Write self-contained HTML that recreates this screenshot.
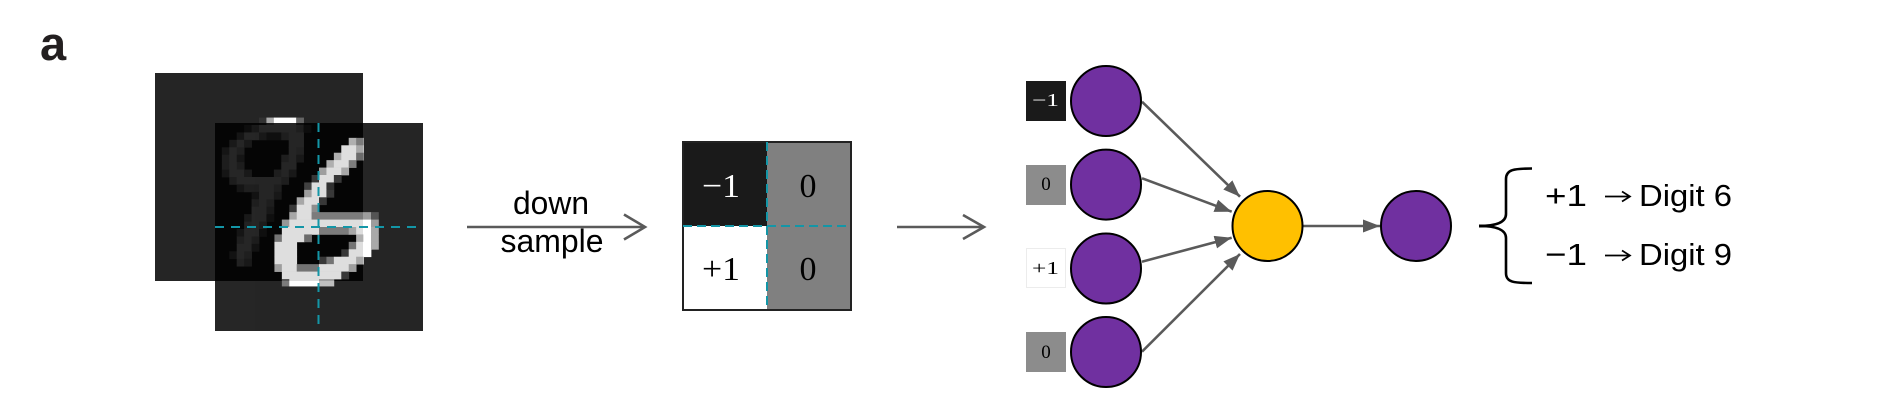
<!DOCTYPE html>
<html>
<head>
<meta charset="utf-8">
<style>
html,body{margin:0;padding:0;background:#fff;}
body{width:1900px;height:410px;overflow:hidden;}
svg{display:block;}
.sans{font-family:"Liberation Sans",Arial,sans-serif;}
.serif{font-family:"Liberation Serif","Times New Roman",serif;}
</style>
</head>
<body>
<svg width="1900" height="410" viewBox="0 0 1900 410" xmlns="http://www.w3.org/2000/svg">
<defs>
  <marker id="ah" markerUnits="userSpaceOnUse" markerWidth="18" markerHeight="14" refX="17" refY="6.5" orient="auto">
    <path d="M0,0 L17,6.5 L0,13 z" fill="#5a5a5a"/>
  </marker>
</defs>

<!-- label a -->
<text x="40" y="60" class="sans" font-size="47" font-weight="bold" fill="#231f20">a</text>

<!-- back image (digit 9) -->
<g opacity="0.85">
  <rect x="155" y="73" width="208" height="208" fill="#000"/>
  <g transform="translate(155,73) scale(7.4286)">
    <rect x="14" y="6" width="1.05" height="1.05" fill="#0f0f0f"/>
    <rect x="15" y="6" width="1.05" height="1.05" fill="#9b9b9b"/>
    <rect x="16" y="6" width="3.05" height="1.05" fill="#fff"/>
    <rect x="19" y="6" width="1.05" height="1.05" fill="#4b4b4b"/>

    <rect x="12" y="7" width="1.05" height="1.05" fill="#3c3c3c"/>
    <rect x="13" y="7" width="1.05" height="1.05" fill="#969696"/>
    <rect x="14" y="7" width="5.05" height="1.05" fill="#fff"/>
    <rect x="19" y="7" width="1.05" height="1.05" fill="#c8c8c8"/>
    <rect x="20" y="7" width="1.05" height="1.05" fill="#3c3c3c"/>

    <rect x="11" y="8" width="1.05" height="1.05" fill="#787878"/>
    <rect x="12" y="8" width="2.05" height="1.05" fill="#fff"/>
    <rect x="14" y="8" width="1.05" height="1.05" fill="#969696"/>
    <rect x="15" y="8" width="2.05" height="1.05" fill="#505050"/>
    <rect x="17" y="8" width="1.05" height="1.05" fill="#c8c8c8"/>
    <rect x="18" y="8" width="2.05" height="1.05" fill="#fff"/>

    <rect x="10" y="9" width="1.05" height="1.05" fill="#969696"/>
    <rect x="11" y="9" width="1.05" height="1.05" fill="#fff"/>
    <rect x="12" y="9" width="1.05" height="1.05" fill="#969696"/>
    <rect x="18" y="9" width="2.05" height="1.05" fill="#fff"/>

    <rect x="9" y="10" width="1.05" height="1.05" fill="#787878"/>
    <rect x="10" y="10" width="1.05" height="1.05" fill="#fff"/>
    <rect x="11" y="10" width="1.05" height="1.05" fill="#c8c8c8"/>
    <rect x="18" y="10" width="1.05" height="1.05" fill="#fff"/>
    <rect x="19" y="10" width="1.05" height="1.05" fill="#dcdcdc"/>

    <rect x="9" y="11" width="1.05" height="1.05" fill="#b4b4b4"/>
    <rect x="10" y="11" width="1.05" height="1.05" fill="#fff"/>
    <rect x="11" y="11" width="1.05" height="1.05" fill="#787878"/>
    <rect x="17" y="11" width="1.05" height="1.05" fill="#c8c8c8"/>
    <rect x="18" y="11" width="1.05" height="1.05" fill="#fff"/>
    <rect x="19" y="11" width="1.05" height="1.05" fill="#969696"/>

    <rect x="9" y="12" width="1.05" height="1.05" fill="#b4b4b4"/>
    <rect x="10" y="12" width="1.05" height="1.05" fill="#fff"/>
    <rect x="11" y="12" width="1.05" height="1.05" fill="#b4b4b4"/>
    <rect x="17" y="12" width="2.05" height="1.05" fill="#fff"/>

    <rect x="9" y="13" width="1.05" height="1.05" fill="#787878"/>
    <rect x="10" y="13" width="2.05" height="1.05" fill="#fff"/>
    <rect x="12" y="13" width="1.05" height="1.05" fill="#969696"/>
    <rect x="16" y="13" width="1.05" height="1.05" fill="#c8c8c8"/>
    <rect x="17" y="13" width="1.05" height="1.05" fill="#fff"/>
    <rect x="18" y="13" width="1.05" height="1.05" fill="#969696"/>

    <rect x="10" y="14" width="1.05" height="1.05" fill="#b4b4b4"/>
    <rect x="11" y="14" width="6.05" height="1.05" fill="#fff"/>
    <rect x="17" y="14" width="1.05" height="1.05" fill="#c8c8c8"/>

    <rect x="11" y="15" width="1.05" height="1.05" fill="#787878"/>
    <rect x="12" y="15" width="2.05" height="1.05" fill="#c8c8c8"/>
    <rect x="14" y="15" width="2.05" height="1.05" fill="#fff"/>
    <rect x="16" y="15" width="1.05" height="1.05" fill="#c8c8c8"/>

    <rect x="13" y="16" width="1.05" height="1.05" fill="#646464"/>
    <rect x="14" y="16" width="2.05" height="1.05" fill="#fff"/>
    <rect x="16" y="16" width="1.05" height="1.05" fill="#969696"/>

    <rect x="13" y="17" width="1.05" height="1.05" fill="#c8c8c8"/>
    <rect x="14" y="17" width="1.05" height="1.05" fill="#fff"/>
    <rect x="15" y="17" width="1.05" height="1.05" fill="#c8c8c8"/>

    <rect x="13" y="18" width="2.05" height="1.05" fill="#fff"/>
    <rect x="15" y="18" width="1.05" height="1.05" fill="#969696"/>

    <rect x="12" y="19" width="1.05" height="1.05" fill="#969696"/>
    <rect x="13" y="19" width="2.05" height="1.05" fill="#fff"/>
    <rect x="15" y="19" width="1.05" height="1.05" fill="#505050"/>

    <rect x="12" y="20" width="1.05" height="1.05" fill="#dcdcdc"/>
    <rect x="13" y="20" width="1.05" height="1.05" fill="#fff"/>
    <rect x="14" y="20" width="1.05" height="1.05" fill="#b4b4b4"/>

    <rect x="11" y="21" width="1.05" height="1.05" fill="#787878"/>
    <rect x="12" y="21" width="2.05" height="1.05" fill="#fff"/>
    <rect x="14" y="21" width="1.05" height="1.05" fill="#505050"/>

    <rect x="11" y="22" width="1.05" height="1.05" fill="#c8c8c8"/>
    <rect x="12" y="22" width="1.05" height="1.05" fill="#fff"/>
    <rect x="13" y="22" width="1.05" height="1.05" fill="#b4b4b4"/>

    <rect x="11" y="23" width="2.05" height="1.05" fill="#fff"/>
    <rect x="13" y="23" width="1.05" height="1.05" fill="#646464"/>

    <rect x="10" y="24" width="1.05" height="1.05" fill="#646464"/>
    <rect x="11" y="24" width="1.05" height="1.05" fill="#fff"/>
    <rect x="12" y="24" width="1.05" height="1.05" fill="#c8c8c8"/>

    <rect x="11" y="25" width="1.05" height="1.05" fill="#dcdcdc"/>
    <rect x="12" y="25" width="1.05" height="1.05" fill="#969696"/>
  </g>
</g>

<!-- front image (digit 6) -->
<g opacity="0.85">
  <rect x="215" y="123" width="208" height="208" fill="#000"/>
  <g transform="translate(215,123) scale(7.4286)">
    <rect x="18" y="2" width="1.05" height="1.05" fill="#c8c8c8"/>
    <rect x="19" y="2" width="1.05" height="1.05" fill="#8c8c8c"/>

    <rect x="17" y="3" width="2.05" height="1.05" fill="#fff"/>
    <rect x="19" y="3" width="1.05" height="1.05" fill="#bebebe"/>

    <rect x="16" y="4" width="1.05" height="1.05" fill="#c8c8c8"/>
    <rect x="17" y="4" width="2.05" height="1.05" fill="#fff"/>
    <rect x="19" y="4" width="1.05" height="1.05" fill="#787878"/>

    <rect x="15" y="5" width="1.05" height="1.05" fill="#c8c8c8"/>
    <rect x="16" y="5" width="2.05" height="1.05" fill="#fff"/>
    <rect x="18" y="5" width="1.05" height="1.05" fill="#8c8c8c"/>

    <rect x="14" y="6" width="1.05" height="1.05" fill="#b4b4b4"/>
    <rect x="15" y="6" width="2.05" height="1.05" fill="#fff"/>
    <rect x="17" y="6" width="1.05" height="1.05" fill="#bebebe"/>

    <rect x="13" y="7" width="1.05" height="1.05" fill="#3c3c3c"/>
    <rect x="14" y="7" width="2.05" height="1.05" fill="#fff"/>
    <rect x="16" y="7" width="1.05" height="1.05" fill="#3c3c3c"/>

    <rect x="12" y="8" width="1.05" height="1.05" fill="#464646"/>
    <rect x="13" y="8" width="2.05" height="1.05" fill="#fff"/>
    <rect x="15" y="8" width="1.05" height="1.05" fill="#323232"/>

    <rect x="12" y="9" width="1.05" height="1.05" fill="#b4b4b4"/>
    <rect x="13" y="9" width="2.05" height="1.05" fill="#fff"/>
    <rect x="15" y="9" width="1.05" height="1.05" fill="#3c3c3c"/>

    <rect x="11" y="10" width="1.05" height="1.05" fill="#bebebe"/>
    <rect x="12" y="10" width="2.05" height="1.05" fill="#fff"/>
    <rect x="14" y="10" width="1.05" height="1.05" fill="#3c3c3c"/>

    <rect x="10" y="11" width="1.05" height="1.05" fill="#3c3c3c"/>
    <rect x="11" y="11" width="2.05" height="1.05" fill="#fff"/>
    <rect x="13" y="11" width="1.05" height="1.05" fill="#a0a0a0"/>

    <rect x="10" y="12" width="1.05" height="1.05" fill="#bebebe"/>
    <rect x="11" y="12" width="2.05" height="1.05" fill="#fff"/>
    <rect x="13" y="12" width="8.05" height="1.05" fill="#8c8c8c"/>
    <rect x="21" y="12" width="1.05" height="1.05" fill="#373737"/>

    <rect x="9" y="13" width="1.05" height="1.05" fill="#aaaaaa"/>
    <rect x="10" y="13" width="11.05" height="1.05" fill="#fff"/>
    <rect x="21" y="13" width="1.05" height="1.05" fill="#8c8c8c"/>

    <rect x="9" y="14" width="5.05" height="1.05" fill="#fff"/>
    <rect x="14" y="14" width="4.05" height="1.05" fill="#8c8c8c"/>
    <rect x="18" y="14" width="1.05" height="1.05" fill="#bebebe"/>
    <rect x="19" y="14" width="2.05" height="1.05" fill="#fff"/>
    <rect x="21" y="14" width="1.05" height="1.05" fill="#9b9b9b"/>

    <rect x="8" y="15" width="1.05" height="1.05" fill="#828282"/>
    <rect x="9" y="15" width="3.05" height="1.05" fill="#fff"/>
    <rect x="12" y="15" width="1.05" height="1.05" fill="#787878"/>
    <rect x="19" y="15" width="1.05" height="1.05" fill="#c8c8c8"/>
    <rect x="20" y="15" width="1.05" height="1.05" fill="#fff"/>
    <rect x="21" y="15" width="1.05" height="1.05" fill="#9b9b9b"/>

    <rect x="8" y="16" width="3.05" height="1.05" fill="#fff"/>
    <rect x="18" y="16" width="1.05" height="1.05" fill="#828282"/>
    <rect x="19" y="16" width="2.05" height="1.05" fill="#fff"/>
    <rect x="21" y="16" width="1.05" height="1.05" fill="#9b9b9b"/>

    <rect x="8" y="17" width="3.05" height="1.05" fill="#fff"/>
    <rect x="17" y="17" width="1.05" height="1.05" fill="#3c3c3c"/>
    <rect x="18" y="17" width="3.05" height="1.05" fill="#fff"/>

    <rect x="8" y="18" width="3.05" height="1.05" fill="#fff"/>
    <rect x="14" y="18" width="1.05" height="1.05" fill="#3c3c3c"/>
    <rect x="15" y="18" width="1.05" height="1.05" fill="#828282"/>
    <rect x="16" y="18" width="3.05" height="1.05" fill="#fff"/>
    <rect x="19" y="18" width="1.05" height="1.05" fill="#bebebe"/>

    <rect x="8" y="19" width="1.05" height="1.05" fill="#b4b4b4"/>
    <rect x="9" y="19" width="2.05" height="1.05" fill="#fff"/>
    <rect x="11" y="19" width="3.05" height="1.05" fill="#828282"/>
    <rect x="14" y="19" width="4.05" height="1.05" fill="#fff"/>
    <rect x="18" y="19" width="1.05" height="1.05" fill="#b4b4b4"/>

    <rect x="9" y="20" width="8.05" height="1.05" fill="#fff"/>
    <rect x="17" y="20" width="1.05" height="1.05" fill="#3c3c3c"/>

    <rect x="9" y="21" width="1.05" height="1" fill="#646464"/>
    <rect x="10" y="21" width="4.05" height="1" fill="#fff"/>
    <rect x="14" y="21" width="2.05" height="1" fill="#b4b4b4"/>
  </g>
</g>

<!-- dashed guide lines on image -->
<line x1="318.5" y1="123" x2="318.5" y2="331" stroke="#1396a7" stroke-width="2" stroke-dasharray="9,7"/>
<line x1="215" y1="227" x2="423" y2="227" stroke="#1396a7" stroke-width="2" stroke-dasharray="9,7"/>

<!-- down sample arrow -->
<line x1="467" y1="227" x2="644" y2="227" stroke="#5a5a5a" stroke-width="2.6"/>
<polyline points="624,214.5 645,227 624,239.5" fill="none" stroke="#5a5a5a" stroke-width="2.6"/>
<text x="551" y="214" class="sans" font-size="32" text-anchor="middle" fill="#000" textLength="76" lengthAdjust="spacingAndGlyphs">down</text>
<text x="552" y="252" class="sans" font-size="32" text-anchor="middle" fill="#000" textLength="103" lengthAdjust="spacingAndGlyphs">sample</text>

<!-- 2x2 matrix -->
<rect x="683" y="142" width="84" height="84" fill="#1a1a1a"/>
<rect x="767" y="142" width="84" height="84" fill="#808080"/>
<rect x="683" y="226" width="84" height="84" fill="#ffffff"/>
<rect x="767" y="226" width="84" height="84" fill="#808080"/>
<rect x="683" y="142" width="168" height="168" fill="none" stroke="#222" stroke-width="2"/>
<line x1="767" y1="142" x2="767" y2="310" stroke="#1396a7" stroke-width="2" stroke-dasharray="9,5"/>
<line x1="683" y1="226" x2="851" y2="226" stroke="#1396a7" stroke-width="2" stroke-dasharray="9,5"/>
<text x="721" y="197" class="serif" font-size="34" text-anchor="middle" fill="#fff" textLength="38" lengthAdjust="spacingAndGlyphs">−1</text>
<text x="808" y="197" class="serif" font-size="34" text-anchor="middle" fill="#000">0</text>
<text x="721" y="280" class="serif" font-size="34" text-anchor="middle" fill="#000" textLength="38" lengthAdjust="spacingAndGlyphs">+1</text>
<text x="808" y="280" class="serif" font-size="34" text-anchor="middle" fill="#000">0</text>

<!-- second arrow -->
<line x1="897" y1="227" x2="983" y2="227" stroke="#5a5a5a" stroke-width="2.6"/>
<polyline points="963,215 984,227 963,239" fill="none" stroke="#5a5a5a" stroke-width="2.6"/>

<!-- input label boxes -->
<rect x="1026" y="81" width="40" height="40" fill="#1a1a1a"/>
<text x="1045.5" y="106" class="serif" font-size="18" text-anchor="middle" fill="#fff" textLength="27" lengthAdjust="spacingAndGlyphs">−1</text>
<rect x="1026" y="165" width="40" height="40" fill="#8c8c8c"/>
<text x="1046" y="190" class="serif" font-size="19" text-anchor="middle" fill="#000">0</text>
<rect x="1026.5" y="248.5" width="39" height="39" fill="#fff" stroke="#ececec" stroke-width="1"/>
<text x="1045.5" y="274" class="serif" font-size="18" text-anchor="middle" fill="#000" textLength="27" lengthAdjust="spacingAndGlyphs">+1</text>
<rect x="1026" y="332" width="40" height="40" fill="#8c8c8c"/>
<text x="1046" y="358" class="serif" font-size="19" text-anchor="middle" fill="#000">0</text>

<!-- connections -->
<line x1="1142" y1="101.7" x2="1240" y2="196.7" stroke="#5a5a5a" stroke-width="2.6" marker-end="url(#ah)"/>
<line x1="1142" y1="178.3" x2="1231.7" y2="211.7" stroke="#5a5a5a" stroke-width="2.6" marker-end="url(#ah)"/>
<line x1="1142" y1="261.7" x2="1231.7" y2="237.7" stroke="#5a5a5a" stroke-width="2.6" marker-end="url(#ah)"/>
<line x1="1142" y1="351.7" x2="1240" y2="254" stroke="#5a5a5a" stroke-width="2.6" marker-end="url(#ah)"/>
<line x1="1303" y1="226" x2="1380" y2="226" stroke="#5a5a5a" stroke-width="2.6" marker-end="url(#ah)"/>

<!-- input nodes -->
<circle cx="1106" cy="101" r="35" fill="#7030a0" stroke="#000" stroke-width="2"/>
<circle cx="1106" cy="184.6" r="35" fill="#7030a0" stroke="#000" stroke-width="2"/>
<circle cx="1106" cy="268.5" r="35" fill="#7030a0" stroke="#000" stroke-width="2"/>
<circle cx="1106" cy="352" r="35" fill="#7030a0" stroke="#000" stroke-width="2"/>

<!-- hidden (yellow) node -->
<circle cx="1267.5" cy="226" r="35" fill="#ffc000" stroke="#000" stroke-width="2"/>

<!-- output node -->
<circle cx="1416" cy="226" r="35" fill="#7030a0" stroke="#000" stroke-width="2"/>

<!-- brace -->
<path d="M1532,168.5 C1514,168.5 1506,169.5 1506,179 L1506,214 C1506,222 1497,226 1479,226 C1497,226 1506,230 1506,238 L1506,273 C1506,282.5 1514,283 1532,283" fill="none" stroke="#000" stroke-width="2.6"/>
<path d="M1479,224.5 L1493,224.8 L1493,227.2 L1479,227.5 z" fill="#000"/>

<!-- output text -->
<text x="1545" y="206" class="sans" font-size="31" fill="#000" textLength="42" lengthAdjust="spacingAndGlyphs">+1</text>
<path d="M1605,196.5 L1629,196.5 M1622,191.5 L1630,196.5 L1622,201.5" fill="none" stroke="#000" stroke-width="1.7"/>
<text x="1639" y="206" class="sans" font-size="31" fill="#000" textLength="93" lengthAdjust="spacingAndGlyphs">Digit 6</text>
<text x="1545" y="265" class="sans" font-size="31" fill="#000" textLength="42" lengthAdjust="spacingAndGlyphs">−1</text>
<path d="M1605,255.5 L1629,255.5 M1622,250.5 L1630,255.5 L1622,260.5" fill="none" stroke="#000" stroke-width="1.7"/>
<text x="1639" y="265" class="sans" font-size="31" fill="#000" textLength="93" lengthAdjust="spacingAndGlyphs">Digit 9</text>
</svg>
</body>
</html>
